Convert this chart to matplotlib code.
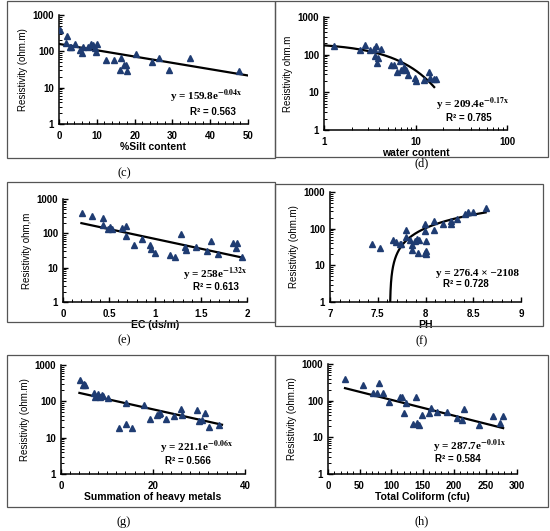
import numpy as np
import matplotlib.pyplot as plt
from matplotlib.patches import Rectangle
from matplotlib.ticker import AutoMinorLocator, LogLocator, NullFormatter

plt.rcParams.update({'mathtext.fontset': 'stix',
                     'font.family': 'Liberation Sans',
                     'axes.linewidth': 1.1})

W, H = 550, 531   # output size in pixels

# (c) silt content
silt_x = [0.35, 2.1, 1.9, 3.0, 3.3, 4.2, 5.5, 6.2, 6.3, 7.7, 8.5, 9.0, 9.4, 9.7, 10.1,
          12.5, 14.5, 16.5, 16.2, 17.2, 17.6, 18.1, 20.5, 24.7, 26.4, 29.1, 34.6, 47.6]
silt_y = [378, 265, 170, 131, 131, 156, 112, 90, 131, 131, 156, 146, 126, 96, 156,
          59, 59, 67, 31, 42, 43, 29, 86, 51, 66, 30, 67, 29]

# (d) water content
water_x = [1.29, 2.46, 2.84, 3.17, 3.48, 3.6, 3.69, 3.9, 3.75, 4.25, 5.39, 5.85, 6.2,
           6.82, 6.93, 7.55, 7.86, 8.34, 9.84, 10.0, 13.9, 12.5, 14.4, 16.0, 16.7]
water_y = [166, 136, 177, 136, 141, 94, 166, 82, 60, 141, 52, 52, 34,
           67, 40, 46, 38, 29, 24, 20, 34, 21, 24, 22, 23]

# (e) EC
ec_x = [0.21, 0.315, 0.43, 0.43, 0.49, 0.51, 0.53, 0.64, 0.68, 0.68, 0.77, 0.855, 0.95,
        0.957, 1.0, 1.16, 1.22, 1.28, 1.33, 1.34, 1.445, 1.565, 1.605, 1.68, 1.85, 1.89,
        1.88, 1.95]
ec_y = [380, 310, 275, 175, 137, 156, 131, 140, 164, 84, 45, 70, 45,
        36, 26, 23, 20.5, 94, 41, 33, 41, 31, 60, 24.5, 51, 51,
        36.6, 21]

# (f) pH
ph_x = [7.443, 7.527, 7.656, 7.69, 7.73, 7.74, 7.80, 7.80, 7.84, 7.855, 7.855, 7.89,
        7.91, 7.925, 7.93, 7.995, 8.0, 8.005, 8.01, 7.99, 7.99, 8.09, 8.09, 8.18, 8.27,
        8.27, 8.33, 8.41, 8.45, 8.50, 8.63]
ph_y = [37, 30, 50, 44, 39, 37, 92, 59, 48, 35, 27, 46,
        51, 22, 48, 22, 20, 46, 24.6, 131, 86, 162, 90, 131, 137,
        162, 180, 256, 280, 290, 374]

# (g) heavy metals
metal_x = [4.13, 4.86, 5.2, 5.07, 7.17, 7.4, 7.75, 8.1, 8.5, 8.84, 9.2, 10.3, 14.1,
           12.6, 14.05, 15.5, 18.0, 19.35, 20.8, 21.2, 21.5, 22.8, 24.6, 26.0, 26.4,
           29.6, 29.9, 30.6, 31.3, 32.2, 34.4]
metal_y = [378, 288, 275, 300, 170, 131, 137, 163, 131, 153, 137, 124, 90,
           18.5, 24, 19, 78, 33, 41, 46, 48, 33, 39, 63, 41,
           56, 29, 30, 48, 19.5, 22]

# (h) total coliform
coli_x = [27.5, 55, 70.9, 77.8, 81.5, 86.8, 96.3, 113.8, 117.5, 120.1, 124.3, 134.4,
          139.7, 141.3, 143.9, 149.2, 159.8, 164, 173, 188.9, 204.8, 212.7, 215.3, 239.2,
          261.4, 273.5, 277]
coli_y = [383, 268, 159, 159, 297, 165, 94, 129, 129, 45, 84, 23,
          129, 25, 21.7, 41, 47, 64, 50, 50, 33, 30, 58, 21.7,
          37, 24, 37]

# trend coefficients (a, b) and x range of the drawn trend line
trend_c = (159.8, -0.04, 0, 50)
trend_d = (209.4, -0.17, 1, 16)
trend_e = (258, -1.32, 0.2, 1.95)
trend_f = (276.4, -2108, None, 8.63)      # linear y = a x + b
trend_g = (221.1, -0.065, 4, 35)
trend_h = (287.7, -0.01, 27, 278)

mcolor = '#1f3c72'


def fig_rect(x0, y0, x1, y1):
    # pixel box (top-left origin) -> figure fraction [l, b, w, h]
    return [x0 / W, 1 - y1 / H, (x1 - x0) / W, (y1 - y0) / H]


panels = [
    dict(ax=(59, 15, 248, 124), frame=(7, 1, 275, 158), cap='(c)', cappos=(124, 173),
         x=silt_x, y=silt_y, trend=trend_c, kind='exp', xlim=(0, 50),
         xticks=[0, 10, 20, 30, 40, 50], xtl=None, minor=5, xlog=False,
         xlabel='%Silt content', ylabel='Resistivity (ohm.m)',
         eq=r'y = 159.8e$^{\mathbf{-0.04x}}$', r2='R² = 0.563',
         eqpos=(0.78, 0.25), r2pos=(0.815, 0.11)),
    dict(ax=(324, 17, 507, 130), frame=(275, 1, 548, 157), cap='(d)', cappos=(422, 163),
         x=water_x, y=water_y, trend=trend_d, kind='exp', xlim=(1, 100),
         xticks=[1, 10, 100], xtl=['1', '10', '100'], minor=None, xlog=True,
         xlabel='water content', ylabel='Resistivity ohm.m',
         eq=r'y = 209.4e$^{\mathbf{-0.17x}}$', r2='R² = 0.785',
         eqpos=(0.81, 0.23), r2pos=(0.79, 0.105)),
    dict(ax=(63, 199, 247, 302), frame=(7, 182, 275, 322), cap='(e)', cappos=(124, 340),
         x=ec_x, y=ec_y, trend=trend_e, kind='exp', xlim=(0, 2),
         xticks=[0, 0.5, 1, 1.5, 2], xtl=['0', '0.5', '1', '1.5', '2'], minor=5,
         xlog=False, xlabel='EC (ds/m)', ylabel='Resistivity ohm,m',
         eq=r'y = 258e$^{\mathbf{-1.32x}}$', r2='R² = 0.613',
         eqpos=(0.83, 0.27), r2pos=(0.83, 0.145)),
    dict(ax=(330, 192, 521, 302), frame=(275, 184, 543, 326), cap='(f)', cappos=(422, 341),
         x=ph_x, y=ph_y, trend=trend_f, kind='lin', xlim=(7, 9),
         xticks=[7, 7.5, 8, 8.5, 9], xtl=['7', '7.5', '8', '8.5', '9'], minor=5,
         xlog=False, xlabel='PH', ylabel='Resistivity (ohm.m)',
         eq='y = 276.4 × −2108', r2='R² = 0.728',
         eqpos=(0.77, 0.26), r2pos=(0.71, 0.16)),
    dict(ax=(61, 365, 245, 474), frame=(7, 355, 275, 507), cap='(g)', cappos=(124, 522),
         x=metal_x, y=metal_y, trend=trend_g, kind='exp', xlim=(0, 40),
         xticks=[0, 20, 40], xtl=None, minor=10, xlog=False,
         xlabel='Summation of heavy metals', ylabel='Resistivity (ohm.m)',
         eq=r'y = 221.1e$^{\mathbf{-0.06x}}$', r2='R² = 0.566',
         eqpos=(0.735, 0.25), r2pos=(0.69, 0.12)),
    dict(ax=(328, 364, 517, 474), frame=(275, 355, 548, 507), cap='(h)', cappos=(422, 521),
         x=coli_x, y=coli_y, trend=trend_h, kind='exp', xlim=(0, 300),
         xticks=[0, 50, 100, 150, 200, 250, 300], xtl=None, minor=5, xlog=False,
         xlabel='Total Coliform (cfu)', ylabel='Resistivity (ohm.m)',
         eq=r'y = 287.7e$^{\mathbf{-0.01x}}$', r2='R² = 0.584',
         eqpos=(0.746, 0.25), r2pos=(0.685, 0.135)),
]

fig = plt.figure(figsize=(W / 100, H / 100), dpi=100)

for p in panels:
    x0, y0, x1, y1 = p['frame']
    fig.add_artist(Rectangle((x0 / W, 1 - y1 / H), (x1 - x0) / W, (y1 - y0) / H,
                             transform=fig.transFigure, fill=False,
                             edgecolor='#555555', lw=0.9))
    fig.text(p['cappos'][0] / W, 1 - p['cappos'][1] / H, p['cap'],
             family='Liberation Serif', fontsize=9, ha='center', va='center')

    ax = fig.add_axes(fig_rect(*p['ax']))
    ax.set_yscale('log')
    if p['xlog']:
        ax.set_xscale('log')
    ax.set_xlim(*p['xlim'])
    ax.set_ylim(1, 1000)

    ax.plot(p['x'], p['y'], ls='none', marker='^', ms=4.8, color=mcolor, zorder=3)

    a, b, t0, t1 = p['trend']
    if p['kind'] == 'exp':
        xt = np.linspace(t0, t1, 200)
        yt = a * np.exp(b * xt)
    else:
        yt = np.geomspace(1, a * t1 + b, 200)
        xt = (yt - b) / a
    ax.plot(xt, yt, color='black', lw=1.6, zorder=2)

    for s in ['top', 'right']:
        ax.spines[s].set_visible(False)

    ax.set_yticks([1, 10, 100, 1000], labels=['1', '10', '100', '1000'])
    ax.yaxis.set_minor_locator(LogLocator(base=10, subs=np.arange(2, 10)))
    ax.yaxis.set_minor_formatter(NullFormatter())
    if p['xtl'] is None:
        ax.set_xticks(p['xticks'])
    else:
        ax.set_xticks(p['xticks'], labels=p['xtl'])
    if p['xlog']:
        ax.xaxis.set_minor_locator(LogLocator(base=10, subs=np.arange(2, 10)))
        ax.xaxis.set_minor_formatter(NullFormatter())
    else:
        ax.xaxis.set_minor_locator(AutoMinorLocator(p['minor']))

    ax.tick_params(which='major', direction='in', length=3.5, width=1,
                   labelsize=7)
    ax.tick_params(which='minor', direction='in', length=2, width=0.7)
    for lab in ax.get_xticklabels() + ax.get_yticklabels():
        lab.set_fontweight('bold')
    ax.tick_params(axis='x', pad=5)

    ax.set_xlabel(p['xlabel'], fontsize=7.5, fontweight='bold', labelpad=1)
    ax.set_ylabel(p['ylabel'], fontsize=7, labelpad=3)

    ax.text(*p['eqpos'], p['eq'], transform=ax.transAxes, ha='center', va='center',
            family='Liberation Serif', fontweight='bold', fontsize=8)
    ax.text(*p['r2pos'], p['r2'], transform=ax.transAxes, ha='center', va='center',
            fontweight='bold', fontsize=7)

fig.savefig('out.png', dpi=100)
